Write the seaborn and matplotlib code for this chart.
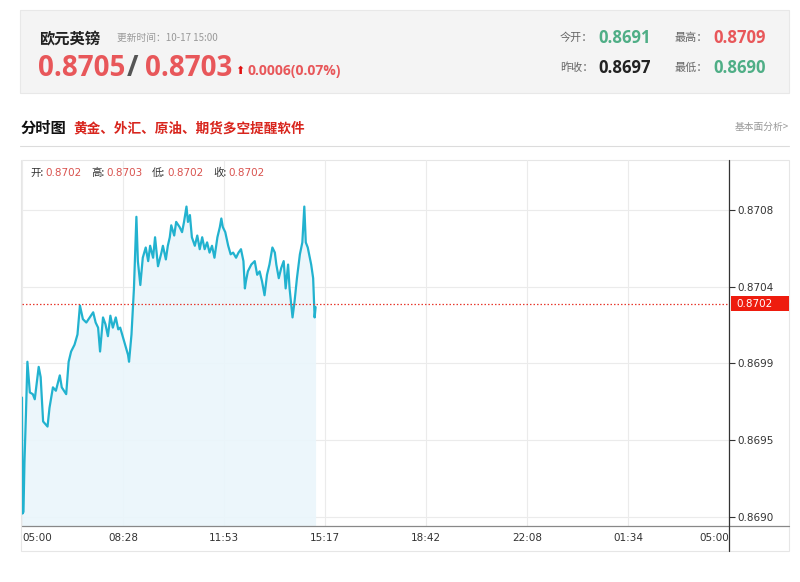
import matplotlib
matplotlib.use("Agg")
import matplotlib.pyplot as plt
from matplotlib.patches import Rectangle
from matplotlib.lines import Line2D
import seaborn as sns
import pandas as pd

# ---------------- data ----------------
minutes = [0, 1, 3, 5, 8, 11, 16, 22, 26, 34, 38, 43, 52, 56, 63, 69, 77, 81, 90, 95,
           100, 107, 113, 118, 124, 131, 138, 145, 150, 155, 159, 165, 170, 175, 180, 185,
           191, 196, 200, 206, 211, 216, 218, 223, 228, 233, 236, 241, 246, 252, 257, 261,
           267, 271, 277, 284, 287, 293, 297, 301, 304, 310, 314, 321, 326, 330, 335, 338,
           342, 346, 352, 357, 362, 367, 372, 377, 382, 387, 392, 398, 403, 406, 409, 414,
           420, 425, 430, 436, 441, 446, 451, 454, 456, 460, 467, 474, 479, 484, 489, 494,
           499, 504, 510, 515, 518, 523, 528, 533, 537, 542, 545, 551, 555, 560, 566, 571,
           575, 578, 582, 589, 593, 596, 598]
prices = [0.86970, 0.86902, 0.86903, 0.86932, 0.86960, 0.86991, 0.86973, 0.86972, 0.86969,
          0.86988, 0.86982, 0.86956, 0.86953, 0.86964, 0.86976, 0.86974, 0.86983, 0.86976,
          0.86972, 0.86991, 0.86997, 0.87001, 0.87007, 0.87024, 0.87016, 0.87014, 0.87017,
          0.87020, 0.87014, 0.87011, 0.86997, 0.87017, 0.87013, 0.87006, 0.87018, 0.87011,
          0.87017, 0.87010, 0.87011, 0.87005, 0.87000, 0.86995, 0.86991, 0.87007, 0.87034,
          0.87076, 0.87050, 0.87036, 0.87052, 0.87058, 0.87050, 0.87059, 0.87052, 0.87064,
          0.87047, 0.87055, 0.87059, 0.87051, 0.87059, 0.87064, 0.87071, 0.87065, 0.87073,
          0.87070, 0.87067, 0.87073, 0.87082, 0.87073, 0.87077, 0.87064, 0.87059, 0.87065,
          0.87057, 0.87064, 0.87057, 0.87061, 0.87055, 0.87059, 0.87052, 0.87064, 0.87070,
          0.87075, 0.87070, 0.87067, 0.87059, 0.87054, 0.87055, 0.87052, 0.87055, 0.87057,
          0.87050, 0.87034, 0.87038, 0.87044, 0.87048, 0.87050, 0.87042, 0.87044, 0.87038,
          0.87030, 0.87042, 0.87048, 0.87058, 0.87055, 0.87048, 0.87040, 0.87046, 0.87050,
          0.87034, 0.87048, 0.87034, 0.87017, 0.87026, 0.87040, 0.87054, 0.87061, 0.87082,
          0.87061, 0.87058, 0.87048, 0.87040, 0.87017, 0.87023]

x_tick_labels = ["05:00", "08:28", "11:53", "15:17", "18:42", "22:08", "01:34", "05:00"]
y_tick_values = [0.86900, 0.86945, 0.86990, 0.87035, 0.87080]
y_tick_labels = ["0.8690", "0.8695", "0.8699", "0.8704", "0.8708"]
current_level = 0.87025
current_label = "0.8702"

pair_name = "欧元英镑"
update_time = "更新时间：10-17 15:00"
bid, ask = "0.8705", "0.8703"
change = "0.0006(0.07%)"
stats = {"今开": "0.8691", "最高": "0.8709", "昨收": "0.8697", "最低": "0.8690"}
ohlc = [("开", "0.8702"), ("高", "0.8703"), ("低", "0.8702"), ("收", "0.8702")]

# ---------------- style ----------------
sns.set_style("white")
FONT = ["Noto Sans CJK SC", "DejaVu Sans"]
plt.rcParams["font.family"] = FONT

W, H = 800, 582
fig = plt.figure(figsize=(W / 100, H / 100), dpi=100)
fig.patch.set_facecolor("white")

def fx(px):
    return px / W

def fy(py):
    return 1 - py / H

RED = "#e8575a"
GREEN = "#4fae86"
LINE = "#22b2cf"

# header box
fig.add_artist(Rectangle((fx(20), fy(93)), fx(789) - fx(20), fy(10) - fy(93),
                         transform=fig.transFigure, facecolor="#f4f4f4",
                         edgecolor="#e8e8e8", lw=0.8, zorder=0))
fig.text(fx(39), fy(38), pair_name, fontsize=11, fontweight="bold", color="#222",
         va="center", ha="left")
fig.text(fx(117), fy(38), update_time, fontsize=7, color="#999", va="center", ha="left")
big = dict(fontsize=20, fontweight="bold", va="center", ha="left",
           family=["Open Sans", "DejaVu Sans"])
fig.text(fx(38), fy(68), bid, color=RED, **big)
fig.text(fx(127), fy(68), "/", color="#555", **big)
fig.text(fx(145), fy(68), ask, color=RED, **big)
fig.text(fx(235), fy(71), "⬆", fontsize=8, color="#e01010", va="center", ha="left",
         family=["DejaVu Sans"])
fig.text(fx(248), fy(71), change, fontsize=10, fontweight="bold", color=RED,
         va="center", ha="left", family=["Open Sans", "DejaVu Sans"])

stat_pos = {"今开": (560, 38, GREEN), "最高": (675, 38, RED),
            "昨收": (560, 68, "#222"), "最低": (675, 68, GREEN)}
for k, v in stats.items():
    x0, y0, c = stat_pos[k]
    fig.text(fx(x0), fy(y0), k + "：", fontsize=8, color="#666", va="center", ha="left")
    fig.text(fx(x0 + 38), fy(y0), v, fontsize=12, fontweight="bold", color=c,
             va="center", ha="left", family=["Open Sans", "DejaVu Sans"])

# section title
fig.text(fx(21), fy(128), "分时图", fontsize=11, fontweight="bold", color="#111",
         va="center", ha="left")
fig.text(fx(73), fy(128), "黄金、外汇、原油、期货多空提醒软件", fontsize=9.8,
         fontweight="bold", color="#d8251d", va="center", ha="left")
fig.text(fx(789), fy(127), "基本面分析>", fontsize=7, color="#999", va="center", ha="right")
fig.add_artist(Line2D([fx(20), fx(789)], [fy(146), fy(146)], transform=fig.transFigure,
                      color="#dcdcdc", lw=0.8))

# chart outer box
fig.add_artist(Rectangle((fx(21), fy(551)), fx(789) - fx(21), fy(160) - fy(551),
                         transform=fig.transFigure, facecolor="none",
                         edgecolor="#e6e6e6", lw=0.8, zorder=0))

# ---------------- chart ----------------
ax = fig.add_axes([fx(22), fy(526), fx(729) - fx(22), fy(160) - fy(526)])
ax.set_facecolor("none")
df = pd.DataFrame({"minute": minutes, "price": prices})

ymin, ymax = 0.868947, 0.871093
ax.set_xlim(0, 1440)
ax.set_ylim(ymin, ymax)

xt = [i * 1440 / 7 for i in range(len(x_tick_labels))]
ax.set_xticks(xt)
ax.set_xticklabels(x_tick_labels)
ax.set_yticks(y_tick_values)
ax.set_yticklabels(y_tick_labels)
ax.yaxis.tick_right()
ax.grid(True, color="#ebebeb", lw=0.8)
ax.set_axisbelow(True)

ax.fill_between(df["minute"], df["price"], ymin, color="#eaf6fb", alpha=0.9, lw=0, zorder=1)
sns.lineplot(data=df, x="minute", y="price", ax=ax, color=LINE, lw=1.6, zorder=3)
ax.set_xlabel("")
ax.set_ylabel("")

ax.axhline(current_level, color="#e8392e", lw=0.9, ls=(0, (1.2, 1.6)), zorder=4)

for s in ax.spines.values():
    s.set_visible(False)
ax.tick_params(axis="x", length=4, color="#888", labelsize=7.5, labelcolor="#333", pad=1,
               direction="out")
ax.tick_params(axis="y", length=4, color="#333", labelsize=7.5, labelcolor="#333", pad=2,
               direction="out")
labels = ax.get_xticklabels()
labels[0].set_ha("left")
labels[-1].set_ha("right")
for t in labels + ax.get_yticklabels():
    t.set_family(["DejaVu Sans"])

# axis lines
fig.add_artist(Line2D([fx(22), fx(789)], [fy(526), fy(526)], transform=fig.transFigure,
                      color="#888", lw=0.9))
fig.add_artist(Line2D([fx(729), fx(729)], [fy(160), fy(551)], transform=fig.transFigure,
                      color="#333", lw=0.9))

# current price box
cy = ax.transData.transform((0, current_level))[1]
cy_px = H - cy
fig.add_artist(Rectangle((fx(731), fy(cy_px + 7.5)), fx(789) - fx(731), 15 / H,
                         transform=fig.transFigure, facecolor="#ee1c0e", edgecolor="none"))
fig.text(fx(736), fy(cy_px), current_label, fontsize=7.5, color="white", va="center",
         ha="left", family=["DejaVu Sans"])

# OHLC strip
xx = 30
for k, v in ohlc:
    fig.text(fx(xx), fy(173), k + ":", fontsize=7.5, color="#333", va="center", ha="left")
    fig.text(fx(xx + 15), fy(173), v, fontsize=7.5, color="#d9534f", va="center", ha="left",
             family=["DejaVu Sans"])
    xx += 61

fig.savefig("out.png", dpi=100)
